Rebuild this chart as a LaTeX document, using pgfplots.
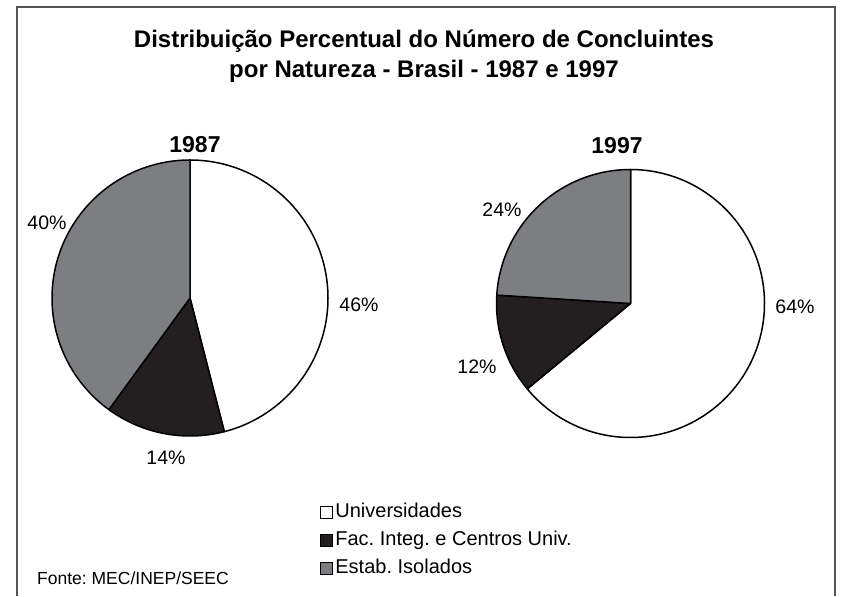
\documentclass[border=0pt]{standalone}
\usepackage{pgfplots}
\pgfplotsset{compat=1.18}
\usepackage{pgfplotstable}
\usepackage{fontspec}
\setmainfont{Liberation Sans}

\definecolor{pgray}{RGB}{125,126,130}
\definecolor{pblack}{RGB}{35,31,32}
\definecolor{framec}{RGB}{85,85,85}

% percent shares by institution type
\pgfplotstableread{
cat   v1987 v1997
Univ  46    64
Fac   14    12
Estab 40    24
}\piedata

\pgfplotstablegetelem{0}{v1987}\of\piedata\edef\aU{\pgfplotsretval}
\pgfplotstablegetelem{1}{v1987}\of\piedata\edef\aF{\pgfplotsretval}
\pgfplotstablegetelem{2}{v1987}\of\piedata\edef\aE{\pgfplotsretval}
\pgfplotstablegetelem{0}{v1997}\of\piedata\edef\bU{\pgfplotsretval}
\pgfplotstablegetelem{1}{v1997}\of\piedata\edef\bF{\pgfplotsretval}
\pgfplotstablegetelem{2}{v1997}\of\piedata\edef\bE{\pgfplotsretval}

% cumulative angles (clockwise from 12 o'clock)
\pgfmathsetmacro\aA{90}
\pgfmathsetmacro\aB{90-3.6*\aU}
\pgfmathsetmacro\aC{90-3.6*(\aU+\aF)}
\pgfmathsetmacro\aD{90-3.6*(\aU+\aF+\aE)}
\pgfmathsetmacro\bA{90}
\pgfmathsetmacro\bB{90-3.6*\bU}
\pgfmathsetmacro\bC{90-3.6*(\bU+\bF)}
\pgfmathsetmacro\bD{90-3.6*(\bU+\bF+\bE)}

% slice: cx, cy, r, end angle (smaller), start angle (larger), colour
\newcommand{\pieslice}[6]{%
  \addplot[forget plot, draw=black, line width=1.5bp, line join=round, fill=#6,
    domain=#4:#5, samples=150, variable=\t]
    ({#1+#3*cos(\t)},{#2+#3*sin(\t)}) -- (axis cs:#1,#2) -- cycle;
}

\begin{document}
\frenchspacing
\begin{tikzpicture}
\begin{axis}[
  scale only axis, width=845bp, height=596bp,
  xmin=0, xmax=845, ymin=0, ymax=596,
  axis lines=none, clip=false,
  legend cell align=left,
  legend image code/.code={\draw[#1, line width=1.2bp] (0bp,-6bp) rectangle (12bp,6bp);},
  legend style={at={(axis cs:319.5,96)}, anchor=north west, draw=none, fill=none,
    inner sep=0pt, row sep=4bp,
    font=\fontsize{20bp}{24bp}\selectfont,
    nodes={inner sep=2.5bp, text height=14.5bp, text depth=4.5bp}},
]
% page extent
\addplot[forget plot, draw=none] coordinates {(0,0) (845,596)};
% frame
\addplot[forget plot, draw=framec, line width=2bp] coordinates {(17,0) (17,589) (835,589) (835,0)};

% 1987 pie
\pieslice{190}{298}{138}{\aB}{\aA}{white}
\pieslice{190}{298}{138}{\aC}{\aB}{pblack}
\pieslice{190}{298}{138}{\aD}{\aC}{pgray}
% 1997 pie
\pieslice{630.5}{292.5}{134}{\bB}{\bA}{white}
\pieslice{630.5}{292.5}{134}{\bC}{\bB}{pblack}
\pieslice{630.5}{292.5}{134}{\bD}{\bC}{pgray}

\addlegendimage{fill=white, draw=black}
\addlegendentry{Universidades}
\addlegendimage{fill=pblack, draw=black}
\addlegendentry{Fac. Integ. e Centros Univ.}
\addlegendimage{fill=pgray, draw=black}
\addlegendentry{Estab. Isolados}

% titles
\node[font=\bfseries\fontsize{24bp}{29bp}\selectfont, anchor=base] at (axis cs:424,548) {Distribuição Percentual do Número de Concluintes};
\node[font=\bfseries\fontsize{24bp}{29bp}\selectfont, anchor=base] at (axis cs:424,518) {por Natureza - Brasil - 1987 e 1997};
\node[font=\bfseries\fontsize{23bp}{27bp}\selectfont, anchor=base] at (axis cs:195,443) {1987};
\node[font=\bfseries\fontsize{23bp}{27bp}\selectfont, anchor=base] at (axis cs:617,442) {1997};

% percent labels
\node[font=\fontsize{19.5bp}{23bp}\selectfont] at (axis cs:47,373) {\aE\%};
\node[font=\fontsize{19.5bp}{23bp}\selectfont] at (axis cs:359,291) {\aU\%};
\node[font=\fontsize{19.5bp}{23bp}\selectfont] at (axis cs:166,138) {\aF\%};
\node[font=\fontsize{19.5bp}{23bp}\selectfont] at (axis cs:502,386) {\bE\%};
\node[font=\fontsize{19.5bp}{23bp}\selectfont] at (axis cs:795,289) {\bU\%};
\node[font=\fontsize{19.5bp}{23bp}\selectfont] at (axis cs:477,229) {\bF\%};

% source
\node[font=\fontsize{17.5bp}{21bp}\selectfont, anchor=base west, inner sep=0pt] at (axis cs:37,12) {Fonte: MEC/INEP/SEEC};
\end{axis}
\end{tikzpicture}
\end{document}
